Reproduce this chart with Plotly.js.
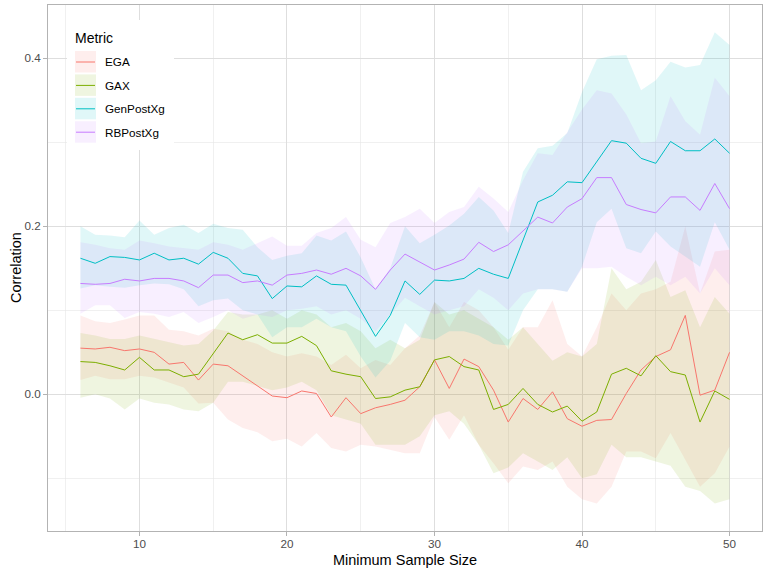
<!DOCTYPE html>
<html>
<head>
<meta charset="utf-8">
<script src="https://cdn.plot.ly/plotly-3.0.1.min.js"></script>
<style>
  html, body { margin: 0; padding: 0; background: #ffffff; }
  #chart { width: 768px; height: 576px; }
</style>
</head>
<body>
<div id="chart"></div>
<script>
// minimum sample size (x)
sampleSize = [6, 7, 8, 9, 10, 11, 12, 13, 14, 15, 16, 17, 18, 19, 20, 21, 22, 23, 24, 25,
  26, 27, 28, 29, 30, 31, 32, 33, 34, 35, 36, 37, 38, 39, 40, 41, 42, 43, 44, 45,
  46, 47, 48, 49, 50];

// EGA
egaMean = [0.055, 0.054, 0.056, 0.052, 0.054, 0.050, 0.036, 0.038, 0.017, 0.036,
  0.034, 0.022, 0.011, -0.002, -0.004, 0.004, 0.001, -0.027, -0.004, -0.023,
  -0.016, -0.012, -0.007, 0.009, 0.041, 0.007, 0.042, 0.033, 0.005, -0.033,
  -0.005, -0.018, 0.003, -0.029, -0.038, -0.031, -0.030, 0.001, 0.029, 0.045,
  0.053, 0.094, -0.001, 0.005, 0.050];
egaLower = [0.017, 0.022, 0.018, 0.018, 0.022, 0.020, 0.014, 0.008, -0.011, -0.010,
  -0.030, -0.040, -0.045, -0.056, -0.053, -0.062, -0.046, -0.064, -0.068, -0.060,
  -0.062, -0.066, -0.070, -0.070, -0.027, -0.054, -0.025, -0.060, -0.082, -0.106,
  -0.086, -0.090, -0.080, -0.110, -0.125, -0.130, -0.110, -0.068, -0.068, -0.076,
  -0.046, -0.078, -0.110, -0.094, -0.062];
egaUpper = [0.094, 0.087, 0.085, 0.089, 0.094, 0.094, 0.077, 0.075, 0.070, 0.078,
  0.075, 0.065, 0.060, 0.050, 0.045, 0.049, 0.045, 0.035, 0.047, 0.031,
  0.041, 0.035, 0.055, 0.070, 0.110, 0.080, 0.110, 0.100, 0.080, 0.053,
  0.080, 0.080, 0.112, 0.060, 0.045, 0.080, 0.120, 0.100, 0.120, 0.125,
  0.134, 0.200, 0.120, 0.170, 0.172];

// GAX
gaxMean = [0.039, 0.038, 0.034, 0.029, 0.044, 0.029, 0.029, 0.021, 0.024, 0.048,
  0.073, 0.065, 0.071, 0.061, 0.061, 0.069, 0.058, 0.028, 0.024, 0.021,
  -0.005, -0.003, 0.005, 0.009, 0.041, 0.045, 0.033, 0.029, -0.018, -0.012,
  0.007, -0.012, -0.021, -0.014, -0.032, -0.021, 0.024, 0.031, 0.022, 0.046,
  0.027, 0.023, -0.033, 0.004, -0.006];
gaxLower = [-0.004, 0.000, -0.005, -0.018, -0.005, -0.010, -0.012, -0.018, -0.020, -0.010,
  0.015, 0.015, 0.010, 0.005, 0.008, 0.015, 0.005, -0.025, -0.030, -0.035,
  -0.060, -0.060, -0.060, -0.050, -0.025, -0.020, -0.035, -0.060, -0.094, -0.087,
  -0.070, -0.080, -0.090, -0.075, -0.100, -0.095, -0.060, -0.075, -0.075, -0.080,
  -0.085, -0.110, -0.115, -0.130, -0.125];
gaxUpper = [0.073, 0.070, 0.066, 0.066, 0.070, 0.066, 0.062, 0.058, 0.060, 0.076,
  0.098, 0.095, 0.095, 0.100, 0.090, 0.100, 0.095, 0.080, 0.085, 0.075,
  0.055, 0.065, 0.055, 0.065, 0.110, 0.095, 0.100, 0.090, 0.080, 0.065,
  0.080, 0.060, 0.040, 0.050, 0.045, 0.060, 0.150, 0.125, 0.134, 0.160,
  0.116, 0.124, 0.080, 0.116, 0.096];

// GenPostXg
genMean = [0.162, 0.156, 0.164, 0.163, 0.160, 0.168, 0.160, 0.162, 0.155, 0.169,
  0.162, 0.144, 0.141, 0.114, 0.129, 0.128, 0.141, 0.131, 0.130, 0.100,
  0.069, 0.094, 0.135, 0.119, 0.136, 0.135, 0.138, 0.150, 0.143, 0.138,
  0.184, 0.229, 0.237, 0.253, 0.252, 0.277, 0.302, 0.299, 0.281, 0.275,
  0.301, 0.290, 0.290, 0.304, 0.287];
genLower = [0.126, 0.130, 0.128, 0.127, 0.130, 0.132, 0.131, 0.125, 0.105, 0.112,
  0.114, 0.100, 0.095, 0.068, 0.080, 0.080, 0.090, 0.080, 0.075, 0.045,
  0.020, 0.040, 0.085, 0.068, 0.065, 0.075, 0.075, 0.070, 0.060, 0.058,
  0.100, 0.125, 0.125, 0.122, 0.152, 0.205, 0.221, 0.174, 0.168, 0.194,
  0.176, 0.164, 0.152, 0.205, 0.172];
genUpper = [0.200, 0.190, 0.189, 0.187, 0.207, 0.190, 0.198, 0.202, 0.192, 0.203,
  0.198, 0.196, 0.175, 0.160, 0.165, 0.168, 0.189, 0.183, 0.194, 0.163,
  0.125, 0.150, 0.200, 0.180, 0.190, 0.201, 0.215, 0.235, 0.219, 0.192,
  0.265, 0.293, 0.296, 0.311, 0.360, 0.399, 0.403, 0.404, 0.362, 0.374,
  0.396, 0.389, 0.392, 0.431, 0.416];

// RBPostXg
rbMean = [0.132, 0.131, 0.132, 0.137, 0.135, 0.138, 0.138, 0.135, 0.127, 0.142,
  0.142, 0.133, 0.135, 0.130, 0.142, 0.144, 0.148, 0.143, 0.150, 0.141,
  0.125, 0.148, 0.167, 0.158, 0.148, 0.154, 0.161, 0.181, 0.170, 0.178,
  0.194, 0.211, 0.204, 0.223, 0.233, 0.258, 0.258, 0.226, 0.220, 0.216,
  0.235, 0.235, 0.219, 0.251, 0.221];
rbLower = [0.096, 0.106, 0.106, 0.091, 0.098, 0.096, 0.092, 0.098, 0.085, 0.092,
  0.100, 0.090, 0.095, 0.092, 0.100, 0.102, 0.105, 0.095, 0.100, 0.090,
  0.075, 0.095, 0.115, 0.105, 0.095, 0.100, 0.105, 0.125, 0.115, 0.100,
  0.120, 0.125, 0.125, 0.122, 0.150, 0.150, 0.152, 0.140, 0.130, 0.140,
  0.130, 0.140, 0.120, 0.150, 0.130];
rbUpper = [0.181, 0.178, 0.174, 0.172, 0.183, 0.180, 0.176, 0.174, 0.172, 0.181,
  0.178, 0.172, 0.180, 0.188, 0.177, 0.177, 0.192, 0.198, 0.211, 0.184,
  0.175, 0.204, 0.211, 0.221, 0.204, 0.217, 0.223, 0.247, 0.233, 0.217,
  0.255, 0.287, 0.285, 0.312, 0.339, 0.362, 0.358, 0.333, 0.299, 0.301,
  0.355, 0.325, 0.309, 0.377, 0.355];

metricNames = ['EGA', 'GAX', 'GenPostXg', 'RBPostXg'];
metricColors = ['#F8766D', '#7CAE00', '#00BFC4', '#C77CFF'];
ribbonColors = ['rgba(248,118,109,0.12)', 'rgba(124,174,0,0.12)',
  'rgba(0,191,196,0.12)', 'rgba(199,124,255,0.12)'];

means = [egaMean, gaxMean, genMean, rbMean];
lowers = [egaLower, gaxLower, genLower, rbLower];
uppers = [egaUpper, gaxUpper, genUpper, rbUpper];

traces = [];
// ribbons first, like geom_ribbon under geom_line
for (i = 0; i < 4; i++) {
  traces.push({
    x: sampleSize, y: lowers[i], type: 'scatter', mode: 'lines',
    line: {width: 0}, showlegend: false, hoverinfo: 'skip'
  });
  traces.push({
    x: sampleSize, y: uppers[i], type: 'scatter', mode: 'lines',
    line: {width: 0}, fill: 'tonexty', fillcolor: ribbonColors[i],
    showlegend: false, hoverinfo: 'skip'
  });
}
for (i = 0; i < 4; i++) {
  traces.push({
    x: sampleSize, y: means[i], type: 'scatter', mode: 'lines',
    name: metricNames[i], showlegend: false,
    line: {color: metricColors[i], width: 1}
  });
}

FONT = 'Liberation Sans, Arial, sans-serif';

// plot area in pixels: left 48, right 762, top 5, bottom 531
M = {l: 48, r: 6, t: 5, b: 45};
function px(v) { return (v - M.l) / (768 - M.l - M.r); }
function py(v) { return (576 - M.b - v) / (576 - M.t - M.b); }

// legend drawn inside the panel, ggplot style
shapes = [{
  type: 'rect', xref: 'paper', yref: 'paper', layer: 'above',
  x0: px(67), x1: px(174), y0: py(150), y1: py(20),
  fillcolor: '#ffffff', line: {width: 0}
}];
annotations = [{
  xref: 'paper', yref: 'paper', x: px(73), y: py(38), xanchor: 'left', yanchor: 'middle',
  text: 'Metric', showarrow: false, font: {size: 14, color: '#000000'}
}, {
  // y axis title, placed like ggplot's
  xref: 'paper', yref: 'paper', x: px(16), y: 0.5, xanchor: 'center', yanchor: 'middle',
  text: 'Correlation', textangle: -90, showarrow: false, font: {size: 14.5, color: '#000000'}
}];
for (i = 0; i < 4; i++) {
  keyTop = 51 + i * 23.4;
  keyMid = keyTop + 11;
  shapes.push({
    type: 'rect', xref: 'paper', yref: 'paper', layer: 'above',
    x0: px(75), x1: px(96), y0: py(keyTop + 21.5), y1: py(keyTop),
    fillcolor: ribbonColors[i], line: {width: 0}
  });
  shapes.push({
    type: 'line', xref: 'paper', yref: 'paper', layer: 'above',
    x0: px(76), x1: px(95), y0: py(keyMid), y1: py(keyMid),
    line: {color: metricColors[i], width: 1}
  });
  annotations.push({
    xref: 'paper', yref: 'paper', x: px(103), y: py(keyMid), xanchor: 'left', yanchor: 'middle',
    text: metricNames[i], showarrow: false, font: {size: 11.7, color: '#000000'}
  });
}

layout = {
  width: 768, height: 576,
  margin: M,
  paper_bgcolor: '#ffffff',
  plot_bgcolor: '#ffffff',
  font: {family: FONT, color: '#4d4d4d'},
  showlegend: false,
  shapes: shapes,
  annotations: annotations,
  xaxis: {
    range: [3.8, 52.2],
    tickvals: [10, 20, 30, 40, 50],
    showgrid: true, gridcolor: '#dedede', gridwidth: 1,
    minor: {tickvals: [5, 15, 25, 35, 45], showgrid: true, gridcolor: '#e6e6e6', gridwidth: 0.6, ticks: ''},
    zeroline: false,
    showline: true, mirror: true, linecolor: '#b3b3b3', linewidth: 1,
    ticks: 'outside', ticklen: 4, tickcolor: '#b3b3b3', tickwidth: 1,
    ticklabelstandoff: -2,
    tickfont: {size: 11.7, color: '#4d4d4d'},
    title: {text: 'Minimum Sample Size', font: {size: 14.5, color: '#000000'}, standoff: 5}
  },
  yaxis: {
    range: [-0.1627, 0.4635],
    tickvals: [0, 0.2, 0.4],
    tickformat: '.1f',
    showgrid: true, gridcolor: '#dedede', gridwidth: 1,
    minor: {tickvals: [-0.1, 0.1, 0.3], showgrid: true, gridcolor: '#e6e6e6', gridwidth: 0.6, ticks: ''},
    zeroline: false,
    showline: true, mirror: true, linecolor: '#b3b3b3', linewidth: 1,
    ticks: 'outside', ticklen: 4, tickcolor: '#b3b3b3', tickwidth: 1,
    tickfont: {size: 11.7, color: '#4d4d4d'}
  }
};

Plotly.newPlot('chart', traces, layout, {displayModeBar: false, staticPlot: true});
</script>
</body>
</html>
